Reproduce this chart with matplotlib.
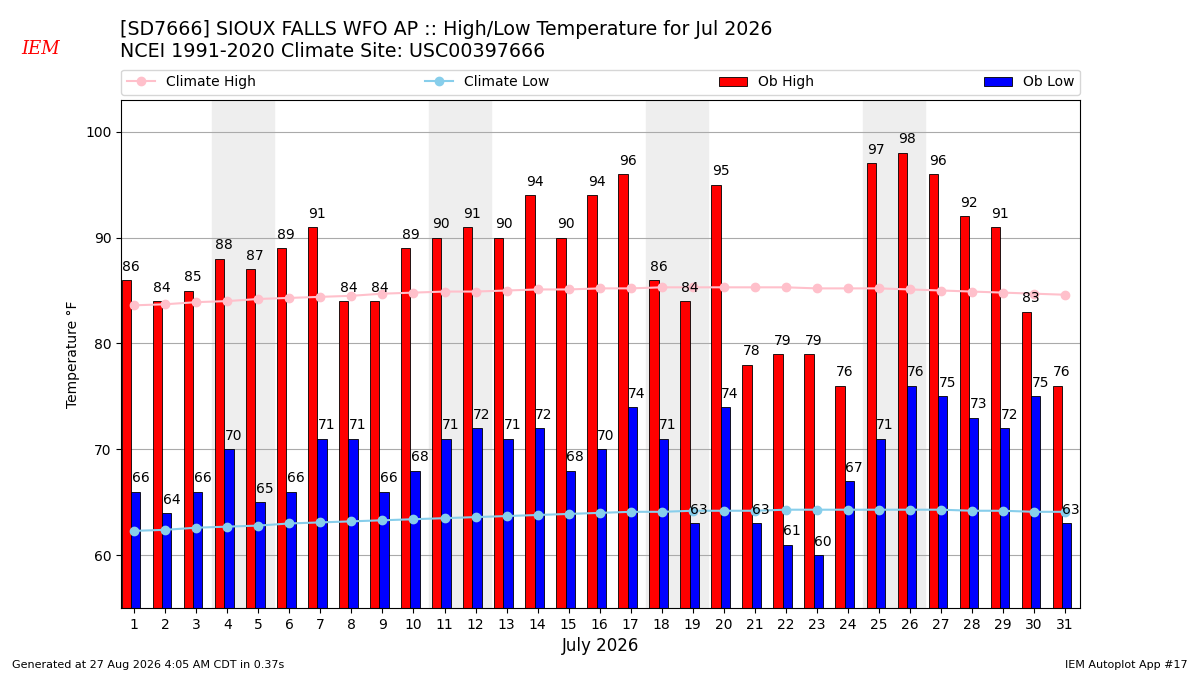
import matplotlib
matplotlib.use("Agg")
import matplotlib.pyplot as plt
import numpy as np

days = list(range(1, 32))
ob_high = [86,84,85,88,87,89,91,84,84,89,90,91,90,94,90,94,96,86,84,95,78,79,79,76,97,98,96,92,91,83,76]
ob_low = [66,64,66,70,65,66,71,71,66,68,71,72,71,72,68,70,74,71,63,74,63,61,60,67,71,76,75,73,72,75,63]
clim_high = [83.6,83.7,83.9,84.0,84.2,84.3,84.4,84.5,84.7,84.8,84.9,84.9,85.0,85.1,85.1,85.2,85.2,85.3,85.3,85.3,85.3,85.3,85.2,85.2,85.2,85.1,85.0,84.9,84.8,84.7,84.6]
clim_low = [62.3,62.4,62.6,62.7,62.8,63.0,63.1,63.2,63.3,63.4,63.5,63.6,63.7,63.8,63.9,64.0,64.1,64.1,64.2,64.2,64.2,64.3,64.3,64.3,64.3,64.3,64.3,64.2,64.2,64.1,64.1]
weekends = [4, 11, 18, 25]

fig = plt.figure(figsize=(12, 6.75), dpi=100)
ax = fig.add_axes([0.101, 0.099, 0.799, 0.753])
x = np.array(days)
for w in weekends:
    ax.axvspan(w - 0.5, w + 1.5, color="#eeeeee", zorder=0)
ax.grid(axis="y", color="#aaaaaa", zorder=1)
ax.set_axisbelow(True)
ax.bar(x - 0.4, ob_high, width=0.3, align="edge", color="red", edgecolor="black", linewidth=0.6, label="Ob High", zorder=2)
ax.bar(x - 0.1, ob_low, width=0.3, align="edge", color="blue", edgecolor="black", linewidth=0.6, label="Ob Low", zorder=2)
ax.plot(x, clim_high, "-o", color="pink", ms=6, label="Climate High", zorder=3)
ax.plot(x, clim_low, "-o", color="skyblue", ms=6, label="Climate Low", zorder=3)
for d, h, l in zip(x, ob_high, ob_low):
    ax.text(d - 0.1, h + 0.6, str(h), ha="center", va="bottom", fontsize=10)
    ax.text(d + 0.2, l + 0.6, str(l), ha="center", va="bottom", fontsize=10)
ax.set_xlim(0.58, 31.48)
ax.set_ylim(55, 103)
ax.set_xticks(days)
ax.set_yticks([60, 70, 80, 90, 100])
ax.set_ylabel("Temperature °F")
ax.set_xlabel("July 2026", fontsize=12)
ax.legend(loc="lower left", bbox_to_anchor=(0, 1.01, 1, 0.05), ncol=4, mode="expand",
          borderaxespad=0, fontsize=10)
fig.text(0.1, 0.94, "[SD7666] SIOUX FALLS WFO AP :: High/Low Temperature for Jul 2026\nNCEI 1991-2020 Climate Site: USC00397666",
         fontsize=13.7, va="center", ha="left")
fig.text(0.018, 0.92, "IEM", color="red", fontsize=13, fontstyle="italic", family="serif")
fig.text(0.01, 0.01, "Generated at 27 Aug 2026 4:05 AM CDT in 0.37s", fontsize=8)
fig.text(0.99, 0.01, "IEM Autoplot App #17", fontsize=8, ha="right")
fig.savefig("out.png")
